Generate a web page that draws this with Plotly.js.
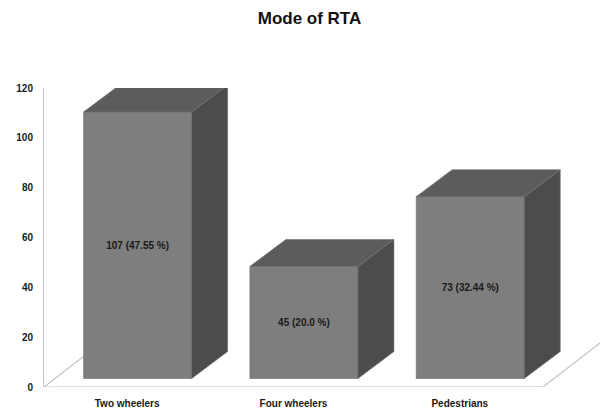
<!DOCTYPE html>
<html>
<head>
<meta charset="utf-8">
<script src="https://cdn.plot.ly/plotly-3.0.1.min.js"></script>
<style>html,body{margin:0;padding:0;background:#fff;}#chart{width:600px;height:410px;}</style>
</head>
<body>
<div id="chart"></div>
<script>
// ---- data ----
const categories = ["Two wheelers", "Four wheelers", "Pedestrians"];
const counts = [107, 45, 73];
const percents = ["47.55", "20.0", "32.44"];
const yTicks = [0, 20, 40, 60, 80, 100, 120];

// ---- geometry (3D look) ----
const xIdx = categories.map((c, i) => i);
const lift = 3.4;      // front face raised above floor front edge (y units)
const barW = 0.65;     // front face width (x units)
const barOff = -0.262; // left edge relative to category centre
const depthX = 0.216;  // depth offset (x units)
const depthY = 10.8;   // depth offset (y units)
const xMax = 2.843;

const frontCol = "#7e7e7e", topCol = "#5c5c5c", sideCol = "#4c4c4c", edgeCol = "#6e6e6e";

const traces = [];
traces.push({
  type: "bar",
  x: xIdx,
  y: counts,
  base: lift,
  width: barW,
  offset: barOff,
  marker: {color: frontCol, line: {color: edgeCol, width: 0.6}},
  text: counts.map((v, i) => v + " (" + percents[i] + " %)"),
  textposition: "inside",
  insidetextanchor: "middle",
  textangle: 0,
  constraintext: "none",
  textfont: {family: "Liberation Sans, Arial, sans-serif", size: 10, weight: "bold", color: "#1a1a1a"},
  hoverinfo: "skip",
  showlegend: false
});
xIdx.forEach((xi, i) => {
  const x0 = xi + barOff, x1 = x0 + barW;
  const b = lift, t = lift + counts[i];
  // side face
  traces.push({
    type: "scatter", mode: "lines", fill: "toself", fillcolor: sideCol,
    line: {color: edgeCol, width: 0.6},
    x: [x1, x1, x1 + depthX, x1 + depthX, x1],
    y: [b, t, t + depthY, b + depthY, b],
    hoverinfo: "skip", showlegend: false
  });
  // top face
  traces.push({
    type: "scatter", mode: "lines", fill: "toself", fillcolor: topCol,
    line: {color: edgeCol, width: 0.6},
    x: [x0, x0 + depthX, x1 + depthX, x1, x0],
    y: [t, t + depthY, t + depthY, t, t],
    hoverinfo: "skip", showlegend: false
  });
});

const floorCol = "#c4c4c4";
const floorDepthX = xMax - 2.5, floorDepthY = 17.66;
const layout = {
  width: 600, height: 410,
  margin: {l: 44, r: 0, t: 88, b: 23, pad: 0},
  paper_bgcolor: "#ffffff", plot_bgcolor: "#ffffff",
  title: {
    text: "Mode of RTA",
    font: {family: "Liberation Sans, Arial, sans-serif", size: 17, weight: "bold", color: "#111"},
    xref: "paper", x: (309.5 - 44) / 556, xanchor: "center",
    yref: "container", y: 1 - 18.5 / 410, yanchor: "middle"
  },
  xaxis: {
    range: [-0.5, xMax],
    tickvals: xIdx, ticktext: categories,
    showline: false, showgrid: false, zeroline: false, ticks: "",
    ticklabelstandoff: 9,
    tickfont: {family: "Liberation Sans, Arial, sans-serif", size: 10, weight: "bold", color: "#1a1a1a"},
    fixedrange: true
  },
  yaxis: {
    range: [0, 120],
    tickvals: yTicks,
    showline: true, linecolor: floorCol, linewidth: 1,
    showgrid: false, zeroline: false, ticks: "",
    ticklabelstandoff: 8,
    tickfont: {family: "Liberation Sans, Arial, sans-serif", size: 10, weight: "bold", color: "#1a1a1a"},
    fixedrange: true
  },
  shapes: [
    {type: "line", xref: "x", yref: "y", x0: -0.5, y0: 0, x1: 2.5, y1: 0, line: {color: floorCol, width: 1.2}, layer: "below"},
    {type: "line", xref: "x", yref: "y", x0: -0.5, y0: 0, x1: -0.5 + floorDepthX, y1: floorDepthY, line: {color: floorCol, width: 1.2}, layer: "below"},
    {type: "line", xref: "x", yref: "y", x0: 2.5, y0: 0, x1: 2.5 + floorDepthX, y1: floorDepthY, line: {color: floorCol, width: 1.2}, layer: "below"}
  ],
  showlegend: false,
  bargap: 0
};

Plotly.newPlot("chart", traces, layout, {displayModeBar: false, staticPlot: true});
</script>
</body>
</html>
